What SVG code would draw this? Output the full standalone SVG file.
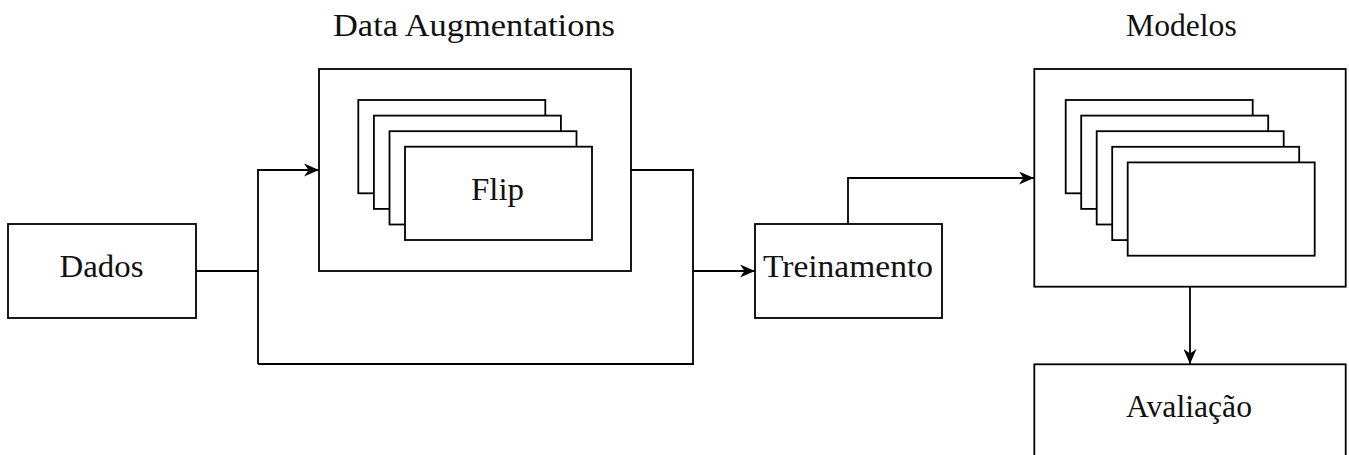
<svg xmlns="http://www.w3.org/2000/svg" width="1349" height="455" viewBox="0 0 1349 455">
  <style>
    .box { fill: #fff; stroke: #000; stroke-width: 1.8; }
    .wire { fill: none; stroke: #000; stroke-width: 1.8; }
    .lbl { font-family: "Liberation Serif", "DejaVu Serif", serif; font-size: 31px; fill: #111; text-anchor: middle; }
  </style>
  <defs>
    <marker id="arrow" viewBox="0 0 15 13" markerWidth="15" markerHeight="13" refX="15" refY="6.5" orient="auto" markerUnits="userSpaceOnUse">
      <path d="M0,0 L15,6.5 L0,13 L4.5,6.5 z" fill="#000"/>
    </marker>
  </defs>

  <rect width="1349" height="455" fill="#fff"/>

  <!-- connectors -->
  <g id="connectors">
    <path class="wire" d="M196,271 H258"/>
    <path class="wire" d="M258,364 V170 H319" marker-end="url(#arrow)"/>
    <path class="wire" d="M258,364 H693 V170 H631"/>
    <path class="wire" d="M693,271 H755" marker-end="url(#arrow)"/>
    <path class="wire" d="M848,224 V178 H1034" marker-end="url(#arrow)"/>
    <path class="wire" d="M1190,287 V364" marker-end="url(#arrow)"/>
  </g>

  <!-- input data -->
  <g id="dados">
    <rect class="box" x="8" y="224" width="188" height="94"/>
    <text class="lbl" x="101.5" y="277" textLength="84" lengthAdjust="spacingAndGlyphs">Dados</text>
  </g>

  <!-- augmentation stage with stacked transforms -->
  <g id="augmentations">
    <text class="lbl" x="474" y="36" textLength="282" lengthAdjust="spacingAndGlyphs">Data Augmentations</text>
    <rect class="box" x="319" y="69" width="312" height="202"/>
    <rect class="box" x="358.3" y="100" width="187" height="93.3"/>
    <rect class="box" x="373.9" y="115.6" width="187" height="93.3"/>
    <rect class="box" x="389.5" y="131.2" width="187" height="93.3"/>
    <rect class="box" x="405" y="146.7" width="187" height="93.3"/>
    <text class="lbl" x="497.5" y="199.5" textLength="53" lengthAdjust="spacingAndGlyphs">Flip</text>
  </g>

  <!-- training -->
  <g id="treinamento">
    <rect class="box" x="755" y="224" width="187" height="94"/>
    <text class="lbl" x="848" y="277.3" textLength="170" lengthAdjust="spacingAndGlyphs">Treinamento</text>
  </g>

  <!-- trained models -->
  <g id="modelos">
    <text class="lbl" x="1181.4" y="36" textLength="110.7" lengthAdjust="spacingAndGlyphs">Modelos</text>
    <rect class="box" x="1034.3" y="69" width="311.4" height="217.7"/>
    <rect class="box" x="1065.7" y="100" width="187" height="93.3"/>
    <rect class="box" x="1081.2" y="115.6" width="187" height="93.3"/>
    <rect class="box" x="1096.7" y="131.2" width="187" height="93.3"/>
    <rect class="box" x="1112.2" y="146.8" width="187" height="93.3"/>
    <rect class="box" x="1127.7" y="162.4" width="187" height="93.3"/>
  </g>

  <!-- evaluation -->
  <g id="avaliacao">
    <rect class="box" x="1034.3" y="364.3" width="311.4" height="120"/>
    <text class="lbl" x="1189" y="416.7" textLength="126" lengthAdjust="spacingAndGlyphs">Avaliação</text>
  </g>
</svg>
